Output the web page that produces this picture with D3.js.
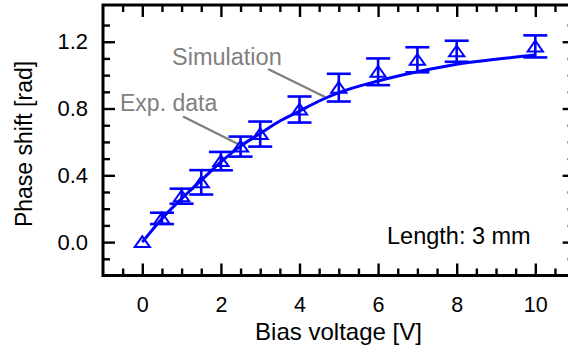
<!DOCTYPE html>
<html>
<head>
<meta charset="utf-8">
<script src="https://cdn.jsdelivr.net/npm/d3@7/dist/d3.min.js"></script>
<style>
  html, body { margin: 0; padding: 0; background: #fff; }
  svg { display: block; font-family: "Liberation Sans", Arial, sans-serif; }
</style>
</head>
<body>
<svg id="chart" width="568" height="352"></svg>
<script>
// Measured phase shift vs. bias voltage (3 mm device)
const biasVoltage = [0, 0.5, 1, 1.5, 2, 2.5, 3, 4, 5, 6, 7, 8, 10];
const phaseShift  = [0, 0.142, 0.275, 0.358, 0.485, 0.572, 0.647, 0.794, 0.925, 1.02, 1.092, 1.143, 1.172];
const phaseError  = [0, 0.034, 0.045, 0.073, 0.055, 0.06, 0.075, 0.078, 0.083, 0.08, 0.075, 0.063, 0.066];

// Simulated response
const simVoltage = [0, 0.5, 1, 1.5, 2, 2.5, 3, 3.5, 4, 4.5, 5, 6, 7, 8, 9, 10];
const simPhase   = [0, 0.14, 0.26, 0.37, 0.48, 0.575, 0.65, 0.725, 0.785, 0.845, 0.895, 0.965, 1.02, 1.065, 1.095, 1.12];

// Axis ticks
const xMajorTicks = [0, 2, 4, 6, 8, 10];
const xMinorTicks = [-0.5, 0.5, 1, 1.5, 2.5, 3, 3.5, 4.5, 5, 5.5, 6.5, 7, 7.5, 8.5, 9, 9.5, 10.5];
const yMajorTicks = [0, 0.4, 0.8, 1.2];
const yMinorTicks = [-0.1, 0.1, 0.2, 0.3, 0.5, 0.6, 0.7, 0.9, 1.0, 1.1, 1.3];

const blue = "#0000ff";
const grey = "#808080";

const svg = d3.select("#chart");
svg.append("rect").attr("width", 568).attr("height", 352).attr("fill", "#fff");

const plotLeft = 103, plotRight = 574.6, plotTop = 5, plotBottom = 275.5;
const x = d3.scaleLinear().domain([-1, 11]).range([plotLeft, plotRight]);
const y = d3.scaleLinear().domain([-0.2, 1.42]).range([plotBottom, plotTop]);

// Tick marks on all four sides, pointing inward
function tickAxis(axisFn, scale, values, size, transform) {
  const g = svg.append("g")
    .attr("transform", transform)
    .call(axisFn(scale).tickValues(values).tickSize(-size).tickFormat(""));
  g.select(".domain").remove();
  g.selectAll(".tick line").attr("stroke", "#000").attr("stroke-width", 2.4);
  return g;
}
tickAxis(d3.axisBottom, x, xMajorTicks, 12, `translate(0,${plotBottom})`);
tickAxis(d3.axisBottom, x, xMinorTicks, 7, `translate(0,${plotBottom})`);
tickAxis(d3.axisTop, x, xMajorTicks, 12, `translate(0,${plotTop})`);
tickAxis(d3.axisTop, x, xMinorTicks, 7, `translate(0,${plotTop})`);
tickAxis(d3.axisLeft, y, yMajorTicks, 12, `translate(${plotLeft},0)`);
tickAxis(d3.axisLeft, y, yMinorTicks, 7, `translate(${plotLeft},0)`);
tickAxis(d3.axisRight, y, yMajorTicks, 12, `translate(${plotRight},0)`);
tickAxis(d3.axisRight, y, yMinorTicks, 7, `translate(${plotRight},0)`);

// Tick labels
const xLabels = svg.append("g")
  .attr("transform", `translate(0,${plotBottom})`)
  .call(d3.axisBottom(x).tickValues(xMajorTicks).tickSize(0).tickPadding(21).tickFormat(d3.format("d")));
xLabels.select(".domain").remove();
xLabels.selectAll("text").attr("font-size", 21.5).attr("fill", "#000")
  .attr("font-family", "Liberation Sans, Arial, sans-serif");

const yLabels = svg.append("g")
  .attr("transform", `translate(${plotLeft},0)`)
  .call(d3.axisLeft(y).tickValues(yMajorTicks).tickSize(0).tickPadding(15).tickFormat(d3.format(".1f")));
yLabels.select(".domain").remove();
yLabels.selectAll("text").attr("font-size", 22).attr("fill", "#000")
  .attr("font-family", "Liberation Sans, Arial, sans-serif");

// Frame
svg.append("rect")
  .attr("x", plotLeft).attr("y", plotTop)
  .attr("width", plotRight - plotLeft).attr("height", plotBottom - plotTop)
  .attr("fill", "none").attr("stroke", "#000").attr("stroke-width", 3);

// Axis titles
svg.append("text")
  .attr("x", 338.5).attr("y", 340)
  .attr("text-anchor", "middle").attr("font-size", 24).attr("fill", "#000")
  .text("Bias voltage [V]");
svg.append("text")
  .attr("transform", "translate(31.5,144) rotate(-90)")
  .attr("text-anchor", "middle").attr("font-size", 23).attr("fill", "#000")
  .text("Phase shift [rad]");

// Device length note
svg.append("text")
  .attr("x", 387).attr("y", 244)
  .attr("font-size", 23.5).attr("fill", "#000")
  .text("Length: 3 mm");

// Callouts
svg.append("line").attr("x1", 268).attr("y1", 69).attr("x2", 325).attr("y2", 97)
  .attr("stroke", grey).attr("stroke-width", 2.5);
svg.append("line").attr("x1", 183).attr("y1", 116.5).attr("x2", 238).attr("y2", 144)
  .attr("stroke", grey).attr("stroke-width", 2.5);
svg.append("text").attr("x", 172).attr("y", 64.5)
  .attr("font-size", 23.5).attr("fill", grey).text("Simulation");
svg.append("text").attr("x", 120).attr("y", 111)
  .attr("font-size", 23).attr("fill", grey).text("Exp. data");

// Experimental data
const pts = biasVoltage.map((v, i) => ({ v, p: phaseShift[i], e: phaseError[i] }));
const withErr = pts.filter(d => d.e > 0);
const eb = svg.append("g").attr("stroke", blue).attr("stroke-width", 2.6).attr("fill", "none");
eb.selectAll("line.stem").data(withErr).join("line").attr("class", "stem")
  .attr("x1", d => x(d.v)).attr("x2", d => x(d.v))
  .attr("y1", d => y(d.p - d.e)).attr("y2", d => y(d.p + d.e));
eb.selectAll("line.capHi").data(withErr).join("line").attr("class", "capHi")
  .attr("x1", d => x(d.v) - 12).attr("x2", d => x(d.v) + 12)
  .attr("y1", d => y(d.p + d.e)).attr("y2", d => y(d.p + d.e));
eb.selectAll("line.capLo").data(withErr).join("line").attr("class", "capLo")
  .attr("x1", d => x(d.v) - 12).attr("x2", d => x(d.v) + 12)
  .attr("y1", d => y(d.p - d.e)).attr("y2", d => y(d.p - d.e));

// Simulation curve
const sim = simVoltage.map((v, i) => [v, simPhase[i]]);
svg.append("path")
  .datum(sim)
  .attr("fill", "none").attr("stroke", blue).attr("stroke-width", 3)
  .attr("d", d3.line().x(d => x(d[0])).y(d => y(d[1])).curve(d3.curveMonotoneX));

// Open triangle markers
svg.append("g").selectAll("path").data(pts).join("path")
  .attr("transform", d => `translate(${x(d.v)},${y(d.p)})`)
  .attr("d", "M0,-5.8L7.6,5L-7.6,5Z")
  .attr("fill", "none").attr("stroke", blue).attr("stroke-width", 2);
</script>
</body>
</html>
